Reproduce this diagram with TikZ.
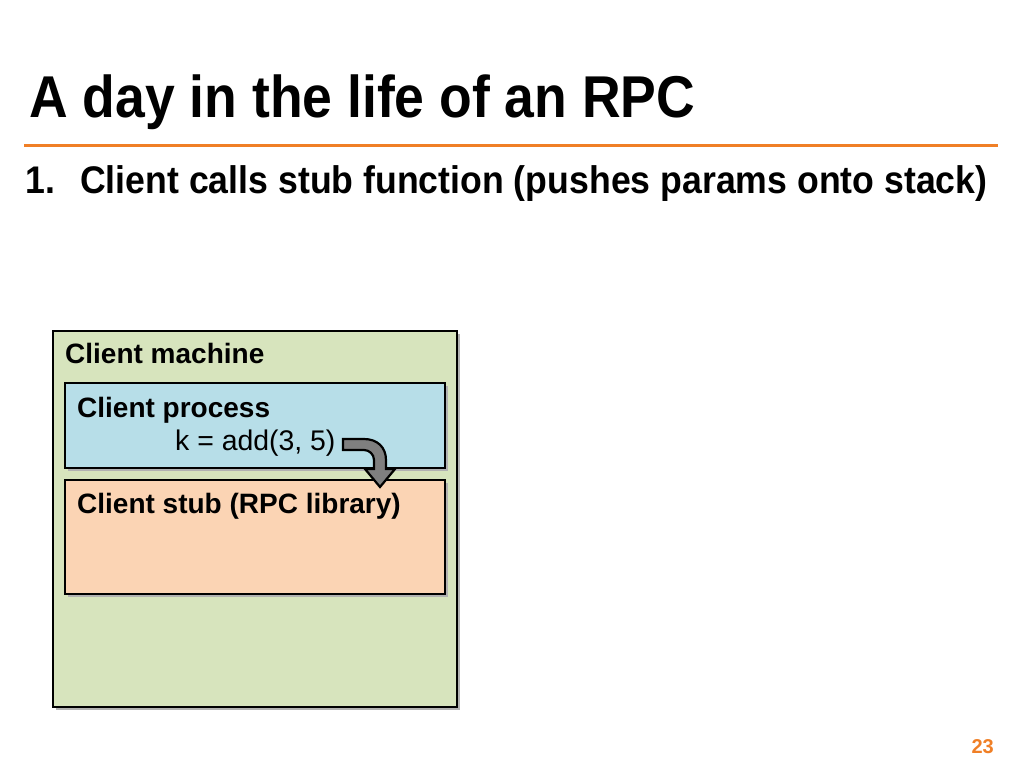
\documentclass[tikz,border=0pt]{standalone}
\usepackage{fontspec}
\setmainfont{Liberation Sans}
\newfontfamily\titlefont[FakeStretch=0.907]{Liberation Sans}
\newfontfamily\subfont[FakeStretch=0.926]{Liberation Sans}
\usetikzlibrary{calc}
\definecolor{machinegreen}{HTML}{D7E4BD}
\definecolor{procblue}{HTML}{B7DEE8}
\definecolor{stubpeach}{HTML}{FBD4B4}
\definecolor{accentorange}{HTML}{F07F26}
\definecolor{arrowgray}{HTML}{7F7F7F}
\begin{document}
\begin{tikzpicture}[x=1pt,y=-1pt,
  boxstyle/.style={draw=black,line width=2.8pt},
  shadowstyle/.style={fill=black!30,draw=none},
  lbl/.style={anchor=base west,inner sep=0pt,font=\bfseries\fontsize{28}{30}\selectfont},
  codetext/.style={anchor=base west,inner sep=0pt,font=\fontsize{28.4}{30}\selectfont},
]
\useasboundingbox (0,0) rectangle (1024,768);
\fill[white] (0,0) rectangle (1024,768);
% title
\node[anchor=base west,inner sep=0pt,font=\titlefont\bfseries\fontsize{59}{62}\selectfont] (title) at (29,117) {A day in the life of an RPC};
\draw[accentorange,line width=3pt] (24,145) coordinate (ruleL) -- (998,145) coordinate (ruleR);
\node[anchor=base west,inner sep=0pt,font=\subfont\bfseries\fontsize{38.5}{40}\selectfont] (num) at (25,193) {1.};
\node[anchor=base west,inner sep=0pt,font=\subfont\bfseries\fontsize{38.5}{40}\selectfont] (sub) at (80,193) {Client calls stub function (pushes params onto stack)};
% boxes
\fill[shadowstyle] (56,334) rectangle (460,710);
\filldraw[boxstyle,fill=machinegreen] (53,331) rectangle (457,707);
\coordinate (machine) at (53,331);
\node[lbl] (machinelbl) at (65,363) {Client machine};
\fill[shadowstyle] (68,386) rectangle (448,471);
\filldraw[boxstyle,fill=procblue] (65,383) rectangle (445,468);
\node[lbl] (proclbl) at (77,417) {Client process};
\node[codetext] (call) at (175,450) {k = add(3, 5)};
\fill[shadowstyle] (68,483) rectangle (448,597);
\filldraw[boxstyle,fill=stubpeach] (65,480) rectangle (445,594);
\node[lbl] (stublbl) at (77,513) {Client stub (RPC library)};
% bent arrow
\filldraw[fill=arrowgray,draw=black,line width=2.2pt,line join=miter]
  (343,439) -- (364,439) .. controls (377,439) and (386,447) .. (386,460)
  -- (386,469) -- (395,469) -- (380,487) -- (365,469) -- (374,469) -- (374,460)
  .. controls (374,454) and (369,450) .. (364,450) -- (343,450) -- cycle;
% page number
\node[anchor=base east,inner sep=0pt,text=accentorange,font=\bfseries\fontsize{20}{22}\selectfont] (page) at (994,753) {23};
\end{tikzpicture}
\end{document}
